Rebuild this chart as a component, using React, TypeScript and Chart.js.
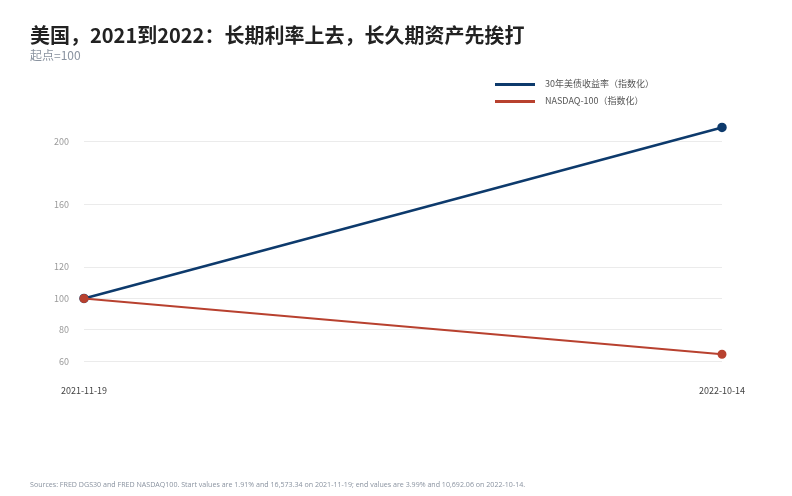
import React, { useEffect, useRef } from "react";
import { Chart, registerables } from "chart.js";
Chart.register(...registerables);

const dates = ["2021-11-19", "2022-10-14"];
const treasuryIndex = [100, 208.9];
const nasdaqIndex = [100, 64.5];
const yTicks = [60, 80, 100, 120, 160, 200];
const seriesNames = ["30年美债收益率（指数化）", "NASDAQ-100（指数化）"];
const seriesColors = ["#0d3a6c", "#b8412f"];

const FONT = "'Noto Sans CJK SC', 'Noto Sans', sans-serif";

export default function App() {
  const canvasRef = useRef<HTMLCanvasElement | null>(null);

  useEffect(() => {
    document.body.style.margin = "0";
    const ctx = canvasRef.current;
    if (!ctx) return;
    const chart = new Chart(ctx, {
      type: "line",
      data: {
        labels: dates,
        datasets: [
          {
            label: seriesNames[0],
            data: treasuryIndex,
            borderColor: seriesColors[0],
            backgroundColor: seriesColors[0],
            pointBackgroundColor: seriesColors[0],
            pointBorderColor: seriesColors[0],
            borderWidth: 2.5,
            pointRadius: 3.5,
            tension: 0,
            order: 2,
          },
          {
            label: seriesNames[1],
            data: nasdaqIndex,
            borderColor: seriesColors[1],
            backgroundColor: seriesColors[1],
            pointBackgroundColor: seriesColors[1],
            pointBorderColor: seriesColors[1],
            borderWidth: 2,
            pointRadius: 3.5,
            tension: 0,
            order: 1,
          },
        ],
      },
      options: {
        animation: false,
        responsive: true,
        maintainAspectRatio: false,
        layout: { padding: { top: 110, right: 70, bottom: 89, left: 0 } },
        plugins: {
          legend: { display: false },
          tooltip: { enabled: false },
        },
        scales: {
          x: {
            type: "category",
            offset: false,
            grid: { display: false, drawTicks: false },
            border: { display: false },
            ticks: {
              color: "#444",
              font: { size: 9, family: FONT },
              padding: 8,
              maxRotation: 0,
              autoSkip: false,
            },
            afterFit: (scale: any) => {
              scale.height = 30;
            },
          },
          y: {
            min: 50,
            max: 220,
            grid: { color: "#ebebeb", lineWidth: 1, drawTicks: false },
            border: { display: false },
            ticks: {
              color: "#9a9a9a",
              font: { size: 9, family: FONT },
              padding: 15,
            },
            afterBuildTicks: (axis: any) => {
              axis.ticks = yTicks.map((v) => ({ value: v }));
            },
            afterFit: (scale: any) => {
              scale.width = 84;
            },
          },
        },
      },
    });
    return () => chart.destroy();
  }, []);

  return (
    <div style={{ position: "relative", width: 792, height: 496, background: "#fff", fontFamily: FONT, overflow: "hidden" }}>
      <div style={{ position: "absolute", left: 0, top: 0, width: 792, height: 496 }}>
        <canvas ref={canvasRef} />
      </div>
      <div style={{ position: "absolute", left: 30, top: 24, fontSize: 20, fontWeight: 700, color: "#222", lineHeight: "22px", whiteSpace: "nowrap" }}>
        美国，2021到2022：长期利率上去，长久期资产先挨打
      </div>
      <div style={{ position: "absolute", left: 30, top: 48, fontSize: 12, color: "#8a93a0", lineHeight: "14px", whiteSpace: "nowrap" }}>
        起点=100
      </div>
      {seriesNames.map((name, i) => (
        <div key={name} style={{ position: "absolute", left: 495, top: 78 + i * 17, height: 12, display: "flex", alignItems: "center" }}>
          <div style={{ width: 40, height: 3, background: seriesColors[i] }} />
          <div style={{ marginLeft: 10, fontSize: 9, color: "#555", whiteSpace: "nowrap", lineHeight: "12px" }}>{name}</div>
        </div>
      ))}
      <div style={{ position: "absolute", left: 30, top: 479, fontSize: 7.1, color: "#8a93a0", whiteSpace: "nowrap", lineHeight: "10px", fontFamily: "'Open Sans', 'Noto Sans', sans-serif" }}>
        Sources: FRED DGS30 and FRED NASDAQ100. Start values are 1.91% and 16,573.34 on 2021-11-19; end values are 3.99% and 10,692.06 on 2022-10-14.
      </div>
    </div>
  );
}
